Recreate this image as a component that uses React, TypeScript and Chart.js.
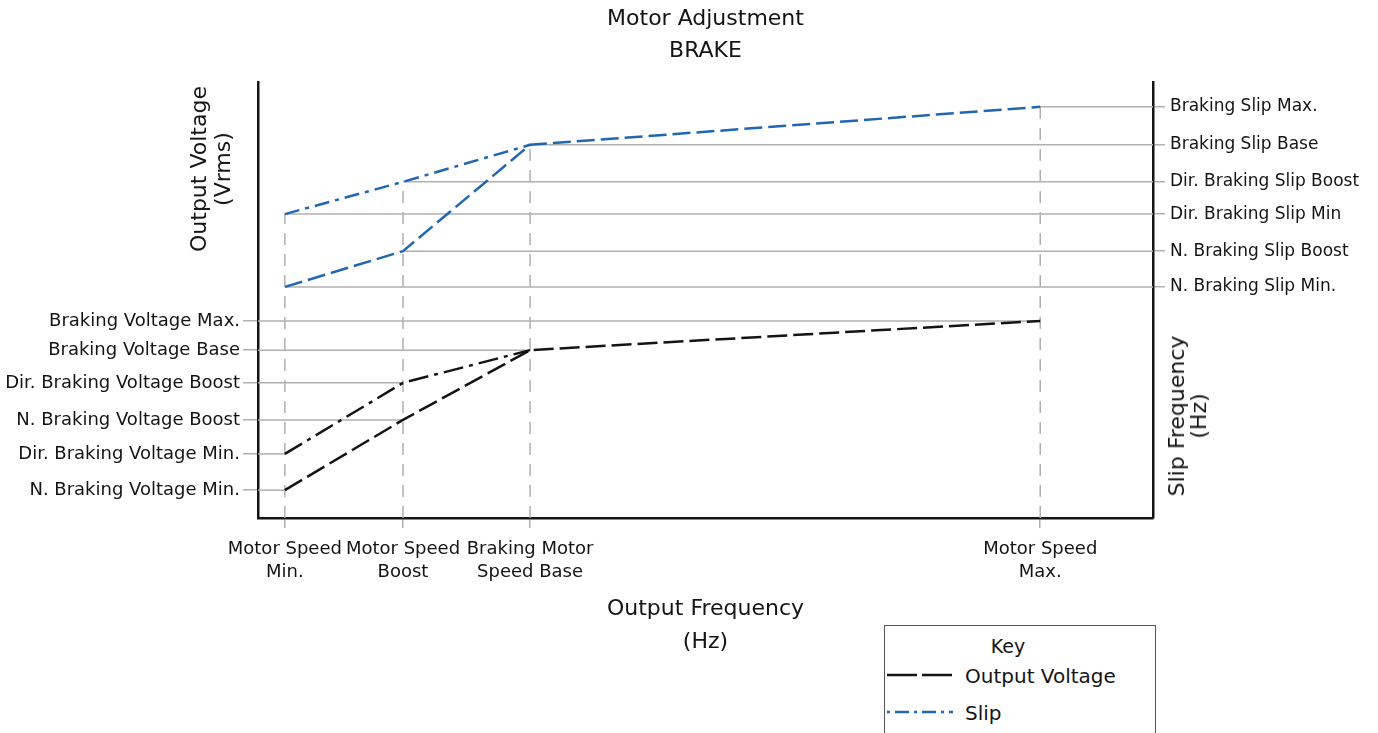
import React, { useEffect, useRef } from "react";
import { Chart, registerables } from "chart.js";

Chart.register(...registerables);

// ---- data ----
const frequencyLabels: string[][] = [
  ["Motor Speed", "Min."],
  ["Motor Speed", "Boost"],
  ["Braking Motor", "Speed Base"],
  ["Motor Speed", "Max."],
];
const frequencyPositions = [3.0, 16.2, 30.4, 87.4];

const voltageLabels = [
  "N. Braking Voltage Min.",
  "Dir. Braking Voltage Min.",
  "N. Braking Voltage Boost",
  "Dir. Braking Voltage Boost",
  "Braking Voltage Base",
  "Braking Voltage Max.",
];
const voltageLevels = [6.4, 14.7, 22.5, 31.0, 38.5, 45.2];

const slipLabels = [
  "N. Braking Slip Min.",
  "N. Braking Slip Boost",
  "Dir. Braking Slip Min",
  "Dir. Braking Slip Boost",
  "Braking Slip Base",
  "Braking Slip Max.",
];
const slipLevels = [53.0, 61.2, 69.7, 77.1, 85.6, 94.3];

// series (one value per frequency position, in order)
const nVoltage = [6.4, 22.5, 38.5, 45.2];
const dirVoltage = [14.7, 31.0, 38.5];
const nSlip = [53.0, 61.2, 85.6, 94.3];
const dirSlip = [69.7, 77.1, 85.6];

const FONT = "'DejaVu Sans', sans-serif";
const BLACK = "#141414";
const BLUE = "#2166b0";
const GRAY = "#b0b0b0";

const toPts = (vals: number[]) => vals.map((v, i) => ({ x: frequencyPositions[i], y: v }));

export default function App() {
  const ref = useRef<HTMLCanvasElement | null>(null);

  useEffect(() => {
    if (!ref.current) return;

    const refSets: any[] = [];
    // horizontal reference lines for voltage (from left axis to point)
    const vSeen = new Set<number>();
    [nVoltage, dirVoltage].forEach((s) =>
      s.forEach((v, i) => {
        if (vSeen.has(v)) return;
        vSeen.add(v);
        refSets.push({
          data: [{ x: 0, y: v }, { x: frequencyPositions[i], y: v }],
          yAxisID: "y",
          borderColor: GRAY,
          borderWidth: 1.5,
          pointRadius: 0,
          order: 2,
        });
      })
    );
    // horizontal reference lines for slip (from point to right axis)
    const sSeen = new Set<number>();
    [nSlip, dirSlip].forEach((s) =>
      s.forEach((v, i) => {
        if (sSeen.has(v)) return;
        sSeen.add(v);
        refSets.push({
          data: [{ x: frequencyPositions[i], y: v }, { x: 100, y: v }],
          yAxisID: "y2",
          borderColor: GRAY,
          borderWidth: 1.5,
          pointRadius: 0,
          order: 2,
        });
      })
    );
    // vertical dashed reference lines
    frequencyPositions.forEach((x, i) => {
      const top = Math.max(
        ...[nVoltage, dirVoltage, nSlip, dirSlip].filter((s) => s.length > i).map((s) => s[i])
      );
      refSets.push({
        data: [{ x, y: 0 }, { x, y: top }],
        yAxisID: "y",
        borderColor: GRAY,
        borderWidth: 1.5,
        borderDash: [12, 9],
        pointRadius: 0,
        order: 2,
      });
    });

    const chart = new Chart(ref.current, {
      type: "line",
      data: {
        datasets: [
          {
            label: "Output Voltage",
            data: toPts(nVoltage),
            yAxisID: "y",
            borderColor: BLACK,
            borderWidth: 2.5,
            borderDash: [20, 6],
            pointRadius: 0,
            order: 0,
          },
          {
            label: "Output Voltage (Dir.)",
            data: toPts(dirVoltage),
            yAxisID: "y",
            borderColor: BLACK,
            borderWidth: 2.5,
            borderDash: [20, 6, 4, 6],
            pointRadius: 0,
            order: 0,
          },
          {
            label: "Slip",
            data: toPts(nSlip),
            yAxisID: "y2",
            borderColor: BLUE,
            borderWidth: 2.5,
            borderDash: [18, 6],
            pointRadius: 0,
            order: 0,
          },
          {
            label: "Slip (Dir.)",
            data: toPts(dirSlip),
            yAxisID: "y2",
            borderColor: BLUE,
            borderWidth: 2.5,
            borderDash: [15, 6, 4, 6],
            pointRadius: 0,
            order: 0,
          },
          ...refSets,
        ],
      },
      options: {
        animation: false,
        responsive: true,
        maintainAspectRatio: false,
        layout: { padding: 0 },
        plugins: {
          legend: { display: false },
          tooltip: { enabled: false },
          title: {
            display: true,
            text: ["Motor Adjustment", "BRAKE"],
            color: BLACK,
            fullSize: false,
            font: { family: FONT, size: 22, weight: "normal", lineHeight: 32 / 22 },
            padding: { top: 3, bottom: 15 },
          },
        },
        scales: {
          x: {
            type: "linear",
            min: 0,
            max: 100,
            position: "bottom",
            border: { display: true, color: BLACK, width: 2.5 },
            grid: { drawOnChartArea: false, drawTicks: true, tickLength: 10, color: GRAY, lineWidth: 1.5 },
            afterBuildTicks: (s: any) => {
              s.ticks = frequencyPositions.map((v) => ({ value: v }));
            },
            ticks: {
              autoSkip: false,
              maxRotation: 0,
              padding: 10,
              color: BLACK,
              font: { family: FONT, size: 18, lineHeight: 1.28 },
              callback: (_v: any, i: number) => frequencyLabels[i],
            },
            title: {
              display: true,
              text: ["Output Frequency", "(Hz)"],
              color: BLACK,
              font: { family: FONT, size: 22, lineHeight: 1.5 },
              padding: { top: 0, bottom: 74 },
            },
            afterFit: (s: any) => {
              s.height = 215;
            },
          },
          y: {
            type: "linear",
            min: 0,
            max: 100,
            position: "left",
            border: { display: true, color: BLACK, width: 2.5 },
            grid: { drawOnChartArea: false, drawTicks: true, tickLength: 15, color: GRAY, lineWidth: 1.5 },
            afterBuildTicks: (s: any) => {
              s.ticks = voltageLevels.map((v) => ({ value: v }));
            },
            ticks: {
              autoSkip: false,
              padding: 3,
              color: BLACK,
              font: { family: FONT, size: 18 },
              callback: (_v: any, i: number) => voltageLabels[i],
            },
            afterFit: (s: any) => {
              s.width = 258;
            },
          },
          y2: {
            type: "linear",
            min: 0,
            max: 100,
            position: "right",
            border: { display: true, color: BLACK, width: 2.5 },
            grid: { drawOnChartArea: false, drawTicks: true, tickLength: 12, color: GRAY, lineWidth: 1.5 },
            afterBuildTicks: (s: any) => {
              s.ticks = slipLevels.map((v) => ({ value: v }));
            },
            ticks: {
              autoSkip: false,
              padding: 5,
              color: BLACK,
              font: { family: FONT, size: 17 },
              callback: (_v: any, i: number) => slipLabels[i],
            },
            afterFit: (s: any) => {
              s.width = 225;
            },
          },
        },
      } as any,
    });

    return () => chart.destroy();
  }, []);

  const rotTitle = (lines: string[], cx: number, cy: number, lh: number) => (
    <div
      style={{
        position: "absolute",
        left: cx,
        top: cy,
        transform: "translate(-50%, -50%) rotate(-90deg)",
        fontFamily: FONT,
        fontSize: 22,
        lineHeight: lh + "px",
        color: BLACK,
        textAlign: "center",
        whiteSpace: "nowrap",
      }}
    >
      {lines.map((l) => (
        <div key={l}>{l}</div>
      ))}
    </div>
  );

  return (
    <div
      style={{
        position: "fixed",
        left: 0,
        top: 0,
        width: 1378,
        height: 733,
        overflow: "hidden",
        background: "#ffffff",
      }}
    >
      <canvas ref={ref} style={{ position: "absolute", left: 0, top: 0, width: 1378, height: 733 }} />
      {rotTitle(["Output Voltage", "(Vrms)"], 211, 169, 24)}
      {rotTitle(["Slip Frequency", "(Hz)"], 1188, 416, 22)}
      <div
        style={{
          position: "absolute",
          left: 884,
          top: 625,
          width: 270,
          height: 140,
          border: "1.5px solid #555",
          background: "#fff",
          fontFamily: FONT,
          color: BLACK,
        }}
      >
        <div style={{ position: "absolute", left: 0, right: 0, top: 8, textAlign: "center", fontSize: 19, lineHeight: "24px" }}>
          <span style={{ position: "relative", left: -12 }}>Key</span>
        </div>
        <svg style={{ position: "absolute", left: 2, top: 43 }} width={66} height={12}>
          <line x1={0} y1={6} x2={66} y2={6} stroke={BLACK} strokeWidth={2.5} strokeDasharray="30 5" />
        </svg>
        <div style={{ position: "absolute", left: 80, top: 37, fontSize: 20, lineHeight: "26px" }}>Output Voltage</div>
        <svg style={{ position: "absolute", left: 2, top: 80 }} width={66} height={12}>
          <line x1={0} y1={6} x2={66} y2={6} stroke={BLUE} strokeWidth={2.5} strokeDasharray="3 5 14 5" />
        </svg>
        <div style={{ position: "absolute", left: 80, top: 74, fontSize: 20, lineHeight: "26px" }}>Slip</div>
      </div>
    </div>
  );
}
